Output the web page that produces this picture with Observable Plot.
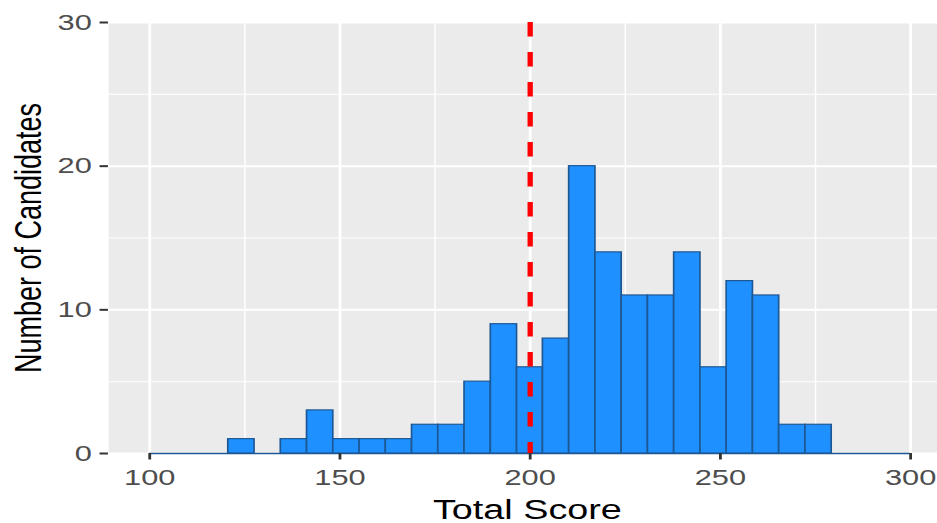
<!DOCTYPE html>
<html>
<head>
<meta charset="utf-8">
<script src="https://cdn.jsdelivr.net/npm/d3@7"></script>
<script src="https://cdn.jsdelivr.net/npm/@observablehq/plot@0.6"></script>
<style>
  html, body { margin: 0; padding: 0; background: #fff; overflow: hidden; }
  #chart { width: 937px; height: 523px; overflow: hidden; }
</style>
</head>
<body>
<div id="chart"></div>
<script>
// ---- data ----
const binEdges = [100, 106.9, 113.8, 120.7, 127.6, 134.5, 141.4, 148.3, 155.2, 162.1,
                  169.0, 175.9, 182.8, 189.7, 196.6, 203.4, 210.3, 217.2, 224.1, 231.0,
                  237.9, 244.8, 251.7, 258.6, 265.5, 272.4, 279.3, 286.2, 293.1, 300];
const counts = [0, 0, 0, 1, 0, 1, 3, 1, 1, 1,
                2, 2, 5, 9, 6, 8, 20, 14, 11, 11,
                14, 6, 12, 11, 2, 2, 0, 0, 0];
const xTicks = [100, 150, 200, 250, 300];
const xMinorTicks = [125, 175, 225, 275];
const yTicks = [0, 10, 20, 30];
const yMinorTicks = [5, 15, 25];
const cutoff = [200];
const xLabel = "Total Score";
const yLabel = "Number of Candidates";

// ---- table for the library ----
const bins = counts.map((c, i) => ({x1: binEdges[i], x2: binEdges[i + 1], count: c}));
const baseline = [{y: 0, x1: binEdges[0], x2: binEdges[binEdges.length - 1]}];

// the reference picture is stretched horizontally; draw in natural units then stretch
const S = 1.4;
const VW = 937 / S, H = 523;
const W = 679.3;
const font = "'Liberation Sans', Arial, Helvetica, sans-serif";
const barStroke = "#1d5894";

const chart = Plot.plot({
  width: W,
  height: H,
  marginLeft: 77.1,
  marginRight: 0,
  marginTop: 22,
  marginBottom: 70,
  style: {fontFamily: font, background: "#fff", overflow: "hidden"},
  x: {domain: [89.2, 310.8]},
  y: {domain: [0, 30]},
  marks: [
    Plot.frame({fill: "#EBEBEB", stroke: "none"}),
    Plot.gridX(xMinorTicks, {stroke: "#fff", strokeOpacity: 1, strokeWidth: 1}),
    Plot.gridY(yMinorTicks, {stroke: "#fff", strokeOpacity: 1, strokeWidth: 1}),
    Plot.gridX(xTicks, {stroke: "#fff", strokeOpacity: 1, strokeWidth: 2}),
    Plot.gridY(yTicks, {stroke: "#fff", strokeOpacity: 1, strokeWidth: 2}),
    Plot.ruleY(baseline, {y: "y", x1: "x1", x2: "x2", stroke: barStroke, strokeWidth: 1.4}),
    Plot.rectY(bins.filter(d => d.count > 0), {
      x1: "x1", x2: "x2", y1: 0, y2: "count",
      fill: "#1E90FF", stroke: barStroke, strokeWidth: 1.2
    }),
    Plot.ruleX(cutoff, {stroke: "#FF0000", strokeWidth: 3.8, strokeDasharray: "14.5,15.5"}),
    Plot.axisX(xTicks, {
      tickSize: 6.5, tickPadding: 9, stroke: "#333333", strokeWidth: 2,
      fill: "#4D4D4D", fontSize: 22, label: null
    }),
    Plot.axisY(yTicks, {
      tickSize: 6, tickPadding: 6, stroke: "#333333", strokeWidth: 2,
      fill: "#4D4D4D", fontSize: 22, label: null
    }),
    Plot.text([xLabel], {
      frameAnchor: "bottom", dy: 65, dx: -2, lineAnchor: "bottom",
      fontSize: 27, fill: "#000"
    }),
    Plot.text([yLabel], {
      frameAnchor: "left", rotate: -90, dx: 28.6 - 77.1, lineAnchor: "bottom",
      textAnchor: "middle", fontSize: 27, fill: "#000"
    })
  ]
});

chart.setAttribute("viewBox", `0 0 ${VW} ${H}`);
chart.setAttribute("width", 937);
chart.setAttribute("height", 523);
chart.setAttribute("preserveAspectRatio", "none");
chart.style.width = "937px";
chart.style.height = "523px";
chart.style.maxWidth = "none";
document.getElementById("chart").appendChild(chart);
</script>
</body>
</html>
